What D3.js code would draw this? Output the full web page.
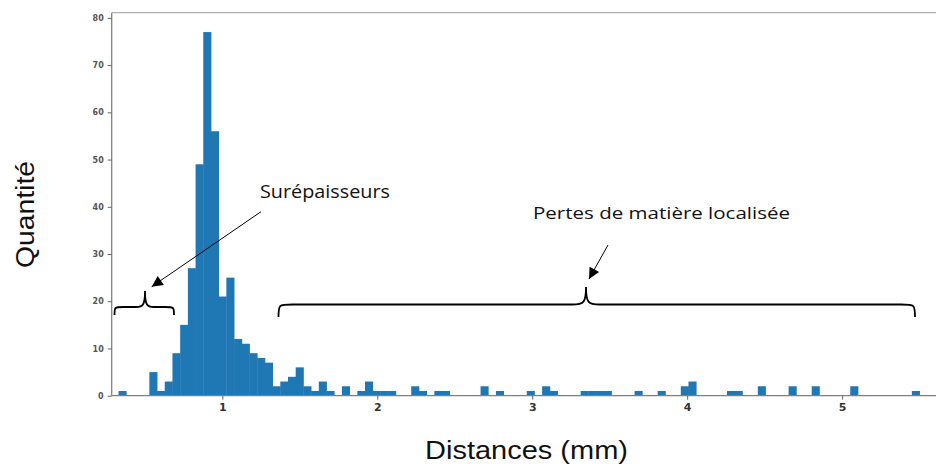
<!DOCTYPE html>
<html><head><meta charset="utf-8">
<script src="https://cdn.jsdelivr.net/npm/d3@7"></script>
<style>body{margin:0;background:#fff} svg{display:block}</style>
</head><body>
<svg id="c" width="948" height="464"></svg>
<script>
// ---- data ----
const binStart = 0.33;
const binEnd = 5.50;
const counts = [
  1,0,0,0,5,1,3,9,15,27,
  49,77,56,21,25,12,11,9,8,7,
  2,3,4,6,2,1,3,1,0,2,
  0,1,3,1,1,1,0,0,2,1,
  0,1,1,0,0,0,0,2,0,1,
  0,0,0,1,0,2,1,0,0,0,
  1,1,1,1,0,0,0,1,0,0,
  1,0,0,2,3,0,0,0,0,1,
  1,0,0,2,0,0,0,2,0,0,
  2,0,0,0,0,2,0,0,0,0,
  0,0,0,1
];
const xTicks = [1,2,3,4,5];
const yTicks = [0,10,20,30,40,50,60,70,80];
const xLabel = "Distances (mm)";
const yLabel = "Quantité";
const noteLeft = "Surépaisseurs";
const noteRight = "Pertes de matière localisée";

// ---- layout ----
const svg = d3.select("#c");
const L = 111.7, R = 936, T = 12.7, B = 395.7;
const x = d3.scaleLinear().domain([0.2858, 5.6062]).range([L, R]);
const y = d3.scaleLinear().domain([0, 81.1]).range([B, T]);
const bw = (binEnd - binStart) / counts.length;
const bins = counts.map((c, i) => ({x0: binStart + i * bw, x1: binStart + (i + 1) * bw, c}));

// bars
svg.append("g").selectAll("rect").data(bins.filter(d => d.c > 0)).join("rect")
  .attr("x", d => x(d.x0)).attr("width", d => x(d.x1) - x(d.x0) + 0.4)
  .attr("y", d => y(d.c)).attr("height", d => y(0) - y(d.c))
  .attr("fill", "#1f77b4");

// top frame line
svg.append("line").attr("x1", L).attr("x2", R).attr("y1", T).attr("y2", T)
  .attr("stroke", "#b0b0b0").attr("stroke-width", 1.2);

// axes
const gx = svg.append("g").attr("transform", `translate(0,${B})`)
  .call(d3.axisBottom(x).tickValues(xTicks).tickFormat(d3.format("d")).tickSize(4).tickPadding(4));
const gy = svg.append("g").attr("transform", `translate(${L},0)`)
  .call(d3.axisLeft(y).tickValues(yTicks).tickFormat(d3.format("d")).tickSize(4).tickPadding(4));
gx.select(".domain").attr("stroke", "#808080").attr("stroke-width", 1.3).attr("d", `M${L},0H${R}`);
gy.select(".domain").attr("stroke", "#808080").attr("stroke-width", 1.3).attr("d", `M0,${B}V${T}`);
gx.selectAll(".tick line").attr("stroke", "#666");
gy.selectAll(".tick line").attr("stroke", "#666");
gx.selectAll("text").attr("font-family", "DejaVu Sans, sans-serif").attr("font-size", 11)
  .attr("font-weight", "bold").attr("fill", "#333");
gy.selectAll("text").attr("font-family", "DejaVu Sans, sans-serif").attr("font-size", 8)
  .attr("font-weight", "bold").attr("fill", "#555");

// axis titles
svg.append("text").attr("x", 425).attr("y", 459)
  .attr("font-family", "Liberation Sans, Arial, sans-serif").attr("font-size", 26).attr("fill", "#111")
  .attr("textLength", 203).attr("lengthAdjust", "spacingAndGlyphs")
  .text(xLabel);
svg.append("text").attr("transform", "translate(34,268) rotate(-90)")
  .attr("font-family", "Liberation Sans, Arial, sans-serif").attr("font-size", 26).attr("fill", "#111")
  .attr("textLength", 107).attr("lengthAdjust", "spacingAndGlyphs")
  .text(yLabel);

// braces
function brace(x1, x2, xm, yEnd, yLine, yTop, r) {
  return `M${x1},${yEnd} C${x1},${yLine} ${x1},${yLine} ${x1 + r},${yLine} ` +
    `H${xm - r} C${xm - 2},${yLine} ${xm},${yLine - 2} ${xm},${yTop} ` +
    `C${xm},${yLine - 2} ${xm + 2},${yLine} ${xm + r},${yLine} ` +
    `H${x2 - r} C${x2},${yLine} ${x2},${yLine} ${x2},${yEnd}`;
}
svg.append("path").attr("d", brace(114.5, 174, 145, 315, 307, 291, 9))
  .attr("fill", "none").attr("stroke", "#000").attr("stroke-width", 1.8);
svg.append("path").attr("d", brace(278.5, 915, 586, 317, 304.5, 287, 14))
  .attr("fill", "none").attr("stroke", "#000").attr("stroke-width", 1.8);

// arrows
const defs = svg.append("defs");
defs.append("marker").attr("id", "ah").attr("viewBox", "0 0 10 10").attr("refX", 10).attr("refY", 5)
  .attr("markerWidth", 15).attr("markerHeight", 11).attr("markerUnits", "userSpaceOnUse").attr("orient", "auto")
  .append("path").attr("d", "M0,0 L10,5 L0,10 z").attr("fill", "#000");
svg.append("line").attr("x1", 261).attr("y1", 211.7).attr("x2", 151.7).attr("y2", 286.7)
  .attr("stroke", "#000").attr("stroke-width", 1).attr("marker-end", "url(#ah)");
svg.append("line").attr("x1", 608).attr("y1", 245).attr("x2", 589).attr("y2", 279)
  .attr("stroke", "#000").attr("stroke-width", 1).attr("marker-end", "url(#ah)");

// notes
svg.append("text").attr("x", 260).attr("y", 198)
  .attr("font-family", "Open Sans, sans-serif").attr("font-size", 18).attr("fill", "#111")
  .attr("textLength", 130).attr("lengthAdjust", "spacingAndGlyphs").text(noteLeft);
svg.append("text").attr("x", 533).attr("y", 219)
  .attr("font-family", "Open Sans, sans-serif").attr("font-size", 17).attr("fill", "#111")
  .attr("textLength", 257).attr("lengthAdjust", "spacingAndGlyphs").text(noteRight);
</script>
</body></html>
